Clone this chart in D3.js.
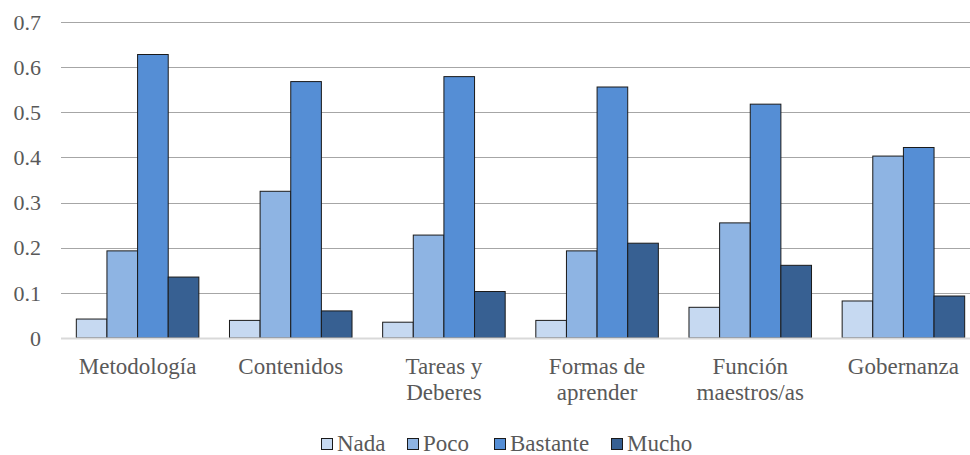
<!DOCTYPE html>
<html>
<head>
<meta charset="utf-8">
<script src="https://cdn.jsdelivr.net/npm/d3@7"></script>
<style>
  html, body { margin: 0; padding: 0; background: #fff; overflow: hidden; }
  svg { display: block; }
</style>
</head>
<body>
<svg id="chart" width="970" height="455"></svg>
<script>
// Categories (multi-line labels split on "\n")
const categories = ["Metodología", "Contenidos", "Tareas y\nDeberes", "Formas de\naprender", "Función\nmaestros/as", "Gobernanza"];
const seriesNames = ["Nada", "Poco", "Bastante", "Mucho"];
const nada     = [0.042, 0.039, 0.035, 0.039, 0.068, 0.082];
const poco     = [0.193, 0.325, 0.228, 0.193, 0.255, 0.403];
const bastante = [0.628, 0.568, 0.579, 0.556, 0.518, 0.422];
const mucho    = [0.135, 0.060, 0.103, 0.210, 0.161, 0.093];
const yTicks = [0, 0.1, 0.2, 0.3, 0.4, 0.5, 0.6, 0.7];
const colors = ["#C6D9F1", "#8EB4E3", "#558ED5", "#376092"];

const seriesValues = [nada, poco, bastante, mucho];
const FONT = "'Liberation Serif', 'DejaVu Serif', serif";
const TEXT = "#595959";
const FS_TICK = 22;
const FS_LABEL = 23;

const svg = d3.select("#chart")
  .attr("font-family", FONT);
const W = 970, H = 455;
// plot area runs slightly past the right edge of the canvas
const plot = { left: 61, right: 980, top: 22, bottom: 338 };

const x0 = d3.scaleBand()
  .domain(categories)
  .range([plot.left, plot.right])
  .paddingInner(0.2)
  .paddingOuter(0.1);

const x1 = d3.scaleBand()
  .domain(seriesNames)
  .range([0, x0.bandwidth()]);

const y = d3.scaleLinear()
  .domain([0, 0.7])
  .range([plot.bottom, plot.top]);

// Gridlines
svg.append("g")
  .selectAll("line")
  .data(yTicks.filter(d => d > 0))
  .join("line")
  .attr("x1", plot.left).attr("x2", W)
  .attr("y1", d => Math.round(y(d)) + 0.5).attr("y2", d => Math.round(y(d)) + 0.5)
  .attr("stroke", "#A6A6A6").attr("stroke-width", 1);

// Y tick labels
svg.append("g")
  .selectAll("text")
  .data(yTicks)
  .join("text")
  .attr("x", 41)
  .attr("y", d => y(d))
  .attr("dy", "0.35em")
  .attr("text-anchor", "end")
  .attr("font-family", FONT)
  .attr("font-size", FS_TICK)
  .attr("fill", TEXT)
  .text(d => d === 0 ? "0" : d3.format(".1f")(d));

// Bars
const groups = svg.append("g")
  .selectAll("g")
  .data(categories)
  .join("g")
  .attr("transform", d => `translate(${x0(d)},0)`);

groups.selectAll("rect")
  .data((c, i) => seriesNames.map((s, j) => ({ s, v: seriesValues[j][i], j })))
  .join("rect")
  .attr("x", d => x1(d.s))
  .attr("y", d => y(d.v))
  .attr("width", x1.bandwidth())
  .attr("height", d => y(0) - y(d.v))
  .attr("fill", d => colors[d.j])
  .attr("stroke", "#1a1a1a")
  .attr("stroke-width", 1);

// Baseline
svg.append("line")
  .attr("x1", plot.left).attr("x2", W)
  .attr("y1", y(0) + 0.5).attr("y2", y(0) + 0.5)
  .attr("stroke", "#D9D9D9").attr("stroke-width", 2);

// X category labels
const xLabels = svg.append("g")
  .selectAll("text")
  .data(categories)
  .join("text")
  .attr("x", d => x0(d) + x0.bandwidth() / 2)
  .attr("y", 374)
  .attr("text-anchor", "middle")
  .attr("font-family", FONT)
  .attr("font-size", FS_LABEL)
  .attr("fill", TEXT);

xLabels.selectAll("tspan")
  .data(d => d.split("\n"))
  .join("tspan")
  .attr("x", function() { return d3.select(this.parentNode).attr("x"); })
  .attr("dy", (d, i) => i === 0 ? 0 : 26)
  .text(d => d);

// Legend
const legendX = [321, 407, 494, 611];
const legend = svg.append("g")
  .selectAll("g")
  .data(seriesNames)
  .join("g")
  .attr("transform", (d, i) => `translate(${legendX[i]},0)`);

legend.append("rect")
  .attr("x", 0.5).attr("y", 438.5)
  .attr("width", 11).attr("height", 11)
  .attr("fill", (d, i) => colors[i])
  .attr("stroke", "#1a1a1a").attr("stroke-width", 1);

legend.append("text")
  .attr("x", 16).attr("y", 451)
  .attr("font-family", FONT)
  .attr("font-size", FS_LABEL)
  .attr("fill", TEXT)
  .text(d => d);
</script>
</body>
</html>
